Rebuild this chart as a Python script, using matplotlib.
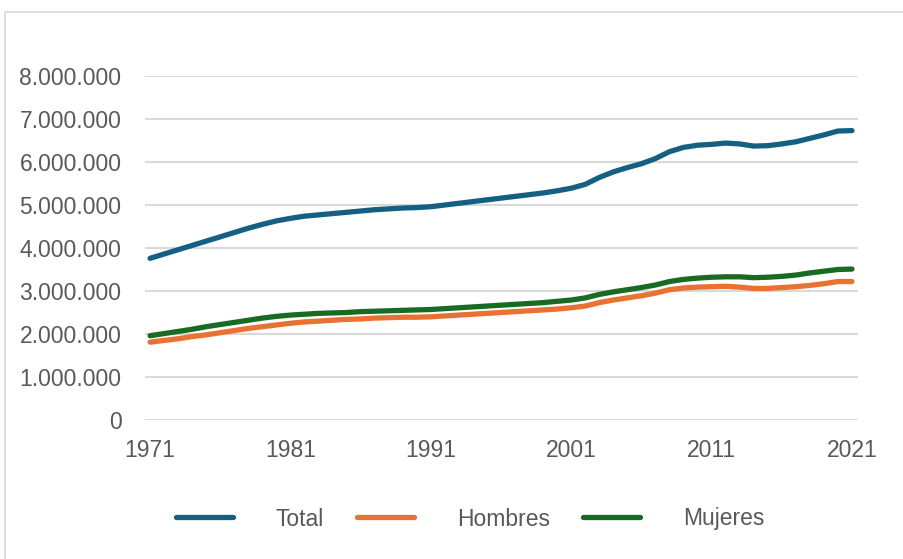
import matplotlib
matplotlib.use("Agg")
import matplotlib.pyplot as plt
from matplotlib.patches import Rectangle
from matplotlib.ticker import FuncFormatter

years = list(range(1971, 2022))

total = [3.76, 3.86, 3.96, 4.06, 4.16, 4.26, 4.36, 4.46, 4.55, 4.63,
         4.69, 4.74, 4.77, 4.80, 4.83, 4.86, 4.89, 4.91, 4.93, 4.94,
         4.96, 5.00, 5.04, 5.08, 5.12, 5.16, 5.20, 5.24, 5.28, 5.33,
         5.39, 5.48, 5.64, 5.77, 5.87, 5.96, 6.08, 6.24, 6.34, 6.39,
         6.41, 6.44, 6.42, 6.37, 6.38, 6.42, 6.47, 6.55, 6.63, 6.72,
         6.73]
hombres = [1.81, 1.85, 1.89, 1.94, 1.98, 2.03, 2.08, 2.13, 2.17, 2.21,
           2.25, 2.28, 2.30, 2.32, 2.34, 2.35, 2.37, 2.38, 2.39, 2.39,
           2.40, 2.42, 2.44, 2.46, 2.48, 2.50, 2.52, 2.54, 2.56, 2.58,
           2.61, 2.65, 2.73, 2.79, 2.84, 2.89, 2.95, 3.03, 3.07, 3.09,
           3.10, 3.11, 3.09, 3.06, 3.06, 3.08, 3.10, 3.13, 3.17, 3.22,
           3.22]
mujeres = [1.96, 2.01, 2.06, 2.11, 2.17, 2.22, 2.27, 2.32, 2.37, 2.41,
           2.44, 2.46, 2.48, 2.49, 2.50, 2.52, 2.53, 2.54, 2.55, 2.56,
           2.57, 2.59, 2.61, 2.63, 2.65, 2.67, 2.69, 2.71, 2.73, 2.76,
           2.79, 2.84, 2.92, 2.98, 3.03, 3.08, 3.14, 3.22, 3.27, 3.30,
           3.32, 3.33, 3.33, 3.31, 3.32, 3.34, 3.37, 3.42, 3.46, 3.50,
           3.51]

series = [("Total", total, "#156082"),
          ("Hombres", hombres, "#E97132"),
          ("Mujeres", mujeres, "#196B24")]

xticks = [1971, 1981, 1991, 2001, 2011, 2021]
yticks = [0, 1e6, 2e6, 3e6, 4e6, 5e6, 6e6, 7e6, 8e6]

plt.rcParams['font.family'] = ['Liberation Sans', 'DejaVu Sans']
txt = "#595959"
grid = "#D9D9D9"

fig = plt.figure(figsize=(9.04, 5.59), dpi=100)
fig.patches.append(Rectangle((5/904, -0.1), 1.1, 1 - 12/559 + 0.1,
                             transform=fig.transFigure, fill=False,
                             edgecolor=grid, linewidth=1.2))
ax = fig.add_axes([145/904, 1 - 420/559, 713/904, 344/559])

for name, vals, col in series:
    ax.plot(years, [v * 1e6 for v in vals], color=col, lw=3.8,
            solid_capstyle='round', solid_joinstyle='round', label=name)

ax.set_xlim(1970.64, 2021.43)
ax.set_ylim(0, 8e6)
ax.set_xticks(xticks)
ax.set_yticks(yticks)
ax.yaxis.set_major_formatter(FuncFormatter(lambda v, p: f"{int(v):,}".replace(",", ".")))
ax.grid(axis='y', color=grid, lw=1.5)
ax.set_axisbelow(True)
for s in ax.spines.values():
    s.set_visible(False)
ax.tick_params(length=0, labelsize=16.5, colors=txt)
ax.tick_params(axis='y', pad=17)
ax.tick_params(axis='x', pad=14)

fig.legend(loc='center', bbox_to_anchor=(470/904, 1 - 519/559), ncol=3,
           frameon=False, fontsize=16.5, labelcolor=txt,
           handlelength=2.5, handletextpad=1.85, columnspacing=1.45)

fig.savefig("out.png", dpi=100)
